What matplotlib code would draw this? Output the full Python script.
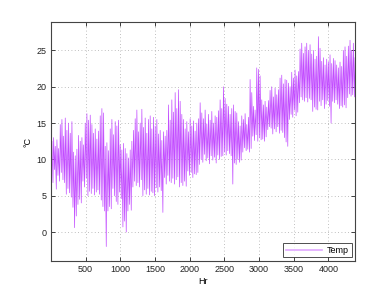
import numpy as np
import matplotlib
matplotlib.use("Agg")
import matplotlib.pyplot as plt

# Daily high / low temperatures (deg C), day 0..182
daily_high = [
    12.5, 13.0, 11.8, 12.7, 11.5,
    14.8, 15.5, 13.2, 15.7, 14.0, 15.0, 13.6, 15.2,
    11.0, 10.5, 11.4,
    13.3, 12.5, 13.0, 12.0,
    15.0, 16.3, 15.4, 16.1, 14.8,
    13.6, 14.2, 12.8, 13.9,
    16.0, 17.0, 16.4,
    11.8, 12.3, 11.2,
    14.2, 15.5, 13.4, 15.2, 14.6, 15.4,
    12.0, 11.3, 12.2, 11.5,
    10.8, 10.2, 11.3, 12.5,
    14.0, 15.6, 16.8, 13.8, 15.0, 16.9, 14.4, 15.7, 13.6,
    15.5, 16.0, 14.2, 15.8, 14.6, 15.5,
    13.5, 14.0, 12.6, 13.8, 13.2, 14.0,
    17.5, 15.4, 18.2, 16.5, 19.2, 17.0, 19.6, 18.0, 16.2,
    15.5, 14.2, 15.2, 13.8, 15.6, 14.6, 15.3, 13.9, 15.0, 15.6,
    17.8, 16.4,
    15.6, 16.8, 14.9, 16.2, 15.4, 16.6, 15.0, 16.0, 15.8, 16.7,
    18.2, 17.0,
    20.0, 18.4, 17.6,
    17.3, 16.2, 17.0,
    17.5, 16.6,
    16.4, 15.2, 14.6, 16.0, 15.5, 16.3, 14.8, 15.8,
    21.0, 19.2,
    17.3, 16.8,
    22.6, 22.4, 21.5,
    18.2, 17.5, 18.0, 17.2, 18.1,
    19.5, 20.0, 18.6, 19.8, 18.9, 19.6,
    21.2, 21.6, 20.4, 21.0,
    20.9, 20.5, 20.0,
    22.0, 21.2, 22.3, 21.5, 22.1,
    25.2, 26.0, 24.6, 25.5,
    26.0, 25.0, 25.8,
    24.5, 25.0, 23.8, 24.2,
    26.9, 25.3,
    23.5, 24.0, 23.0, 23.8, 23.4,
    24.4, 23.2, 23.9, 23.6,
    23.0, 22.6, 23.4, 22.8,
    25.0, 25.5, 24.2,
    25.6, 26.4, 25.0, 26.0,
    24.0,
]

daily_low = [
    7.5, 6.8, 8.6, 5.9, 7.8,
    7.0, 8.2, 7.2, 6.8, 5.2, 6.0, 5.4, 4.8,
    3.4, 0.6, 2.2,
    3.8, 4.5, 4.0,
    7.0, 6.2, 7.4,
    5.0, 5.6, 5.3, 6.0, 5.1, 5.5, 5.8,
    5.2, 4.4, 3.5, 2.9, -2.0,
    2.9, 3.5, 3.2,
    6.0, 5.0, 4.2, 3.8, 5.5, 4.6,
    0.7, 1.5, 0.0,
    2.9, 3.8, 3.0,
    6.2, 7.0, 6.4, 6.8, 6.2, 7.2,
    5.0, 5.8, 5.2, 6.0, 5.1, 5.6, 5.4, 5.0, 6.1,
    5.5, 6.2, 5.7,
    2.7,
    7.5, 6.6, 7.8, 7.0, 6.8, 7.4, 6.6, 7.2, 7.6,
    6.2, 6.8, 6.4, 7.0, 6.3,
    8.4, 7.8, 8.2, 7.5, 8.0, 7.9, 8.2,
    9.3, 10.0, 9.6, 10.7, 9.8, 10.2, 9.4, 10.5, 9.9, 10.3, 9.5, 10.6, 10.0, 10.4,
    10.5, 11.0, 10.6, 11.2, 10.8, 10.5,
    6.6,
    9.5,
    9.3, 10.0, 9.6, 9.9,
    11.0, 11.6, 11.2, 11.4, 11.0, 11.5,
    13.2, 12.6, 13.4,
    12.5, 13.0, 12.7, 12.8, 12.5, 13.1,
    14.1, 14.5, 14.3,
    13.5, 14.2, 13.8, 14.5, 13.6, 14.0,
    13.7, 13.0, 12.4, 11.8,
    15.5, 16.2, 15.8, 16.8, 16.0, 16.5,
    17.8, 18.6, 18.2, 18.0, 18.5, 17.9, 18.4, 18.2,
    16.6, 17.2, 16.9,
    16.8, 18.0, 17.4, 18.2, 17.0, 17.6, 18.1, 17.3,
    15.0,
    18.0, 17.8, 18.2, 17.6,
    17.0, 17.4, 17.2, 17.5, 17.1,
    18.5, 19.0, 18.7, 18.9, 18.6,
]

x_ticks = [500, 1000, 1500, 2000, 2500, 3000, 3500, 4000]
y_ticks = [0, 5, 10, 15, 20, 25]

days = np.arange(len(daily_high))
hours = np.column_stack([days * 24 + 6, days * 24 + 15]).ravel()
temps = np.column_stack([daily_low, daily_high]).ravel()

plt.rcParams['font.family'] = ['Liberation Sans', 'DejaVu Sans']

fig = plt.figure(figsize=(3.92, 2.95), dpi=100)
ax = fig.add_axes([0.130, 0.115, 0.776, 0.810])

line_color = '#c24cff'
ax.plot(hours, temps, color=line_color, lw=0.5, label='Temp')

ax.set_xlim(1, 4385)
ax.set_ylim(-4.0, 28.9)
ax.set_xticks(x_ticks)
ax.set_yticks(y_ticks)
ax.tick_params(direction='in', top=True, right=True, length=3, width=0.6,
               labelsize=6.5, colors='#222222', pad=3)
ax.grid(True, linestyle=(0, (1, 3)), color='#aaaaaa', lw=0.6)
for s in ax.spines.values():
    s.set_color('#444444')
    s.set_linewidth(0.8)

ax.set_xlabel('Hr', fontsize=6.5, labelpad=2)
ax.set_ylabel('°C', fontsize=6.5, labelpad=3)

leg = ax.legend(loc='lower right', fontsize=6.5, frameon=True, fancybox=False,
                borderpad=0.3, handlelength=4.0, handletextpad=0.5,
                borderaxespad=0.4)
leg.get_frame().set_edgecolor('#222222')
leg.get_frame().set_linewidth(0.7)
for h in leg.get_lines():
    h.set_color('#e0a8ff')
    h.set_linewidth(1.2)

fig.savefig('out.png', dpi=100)
